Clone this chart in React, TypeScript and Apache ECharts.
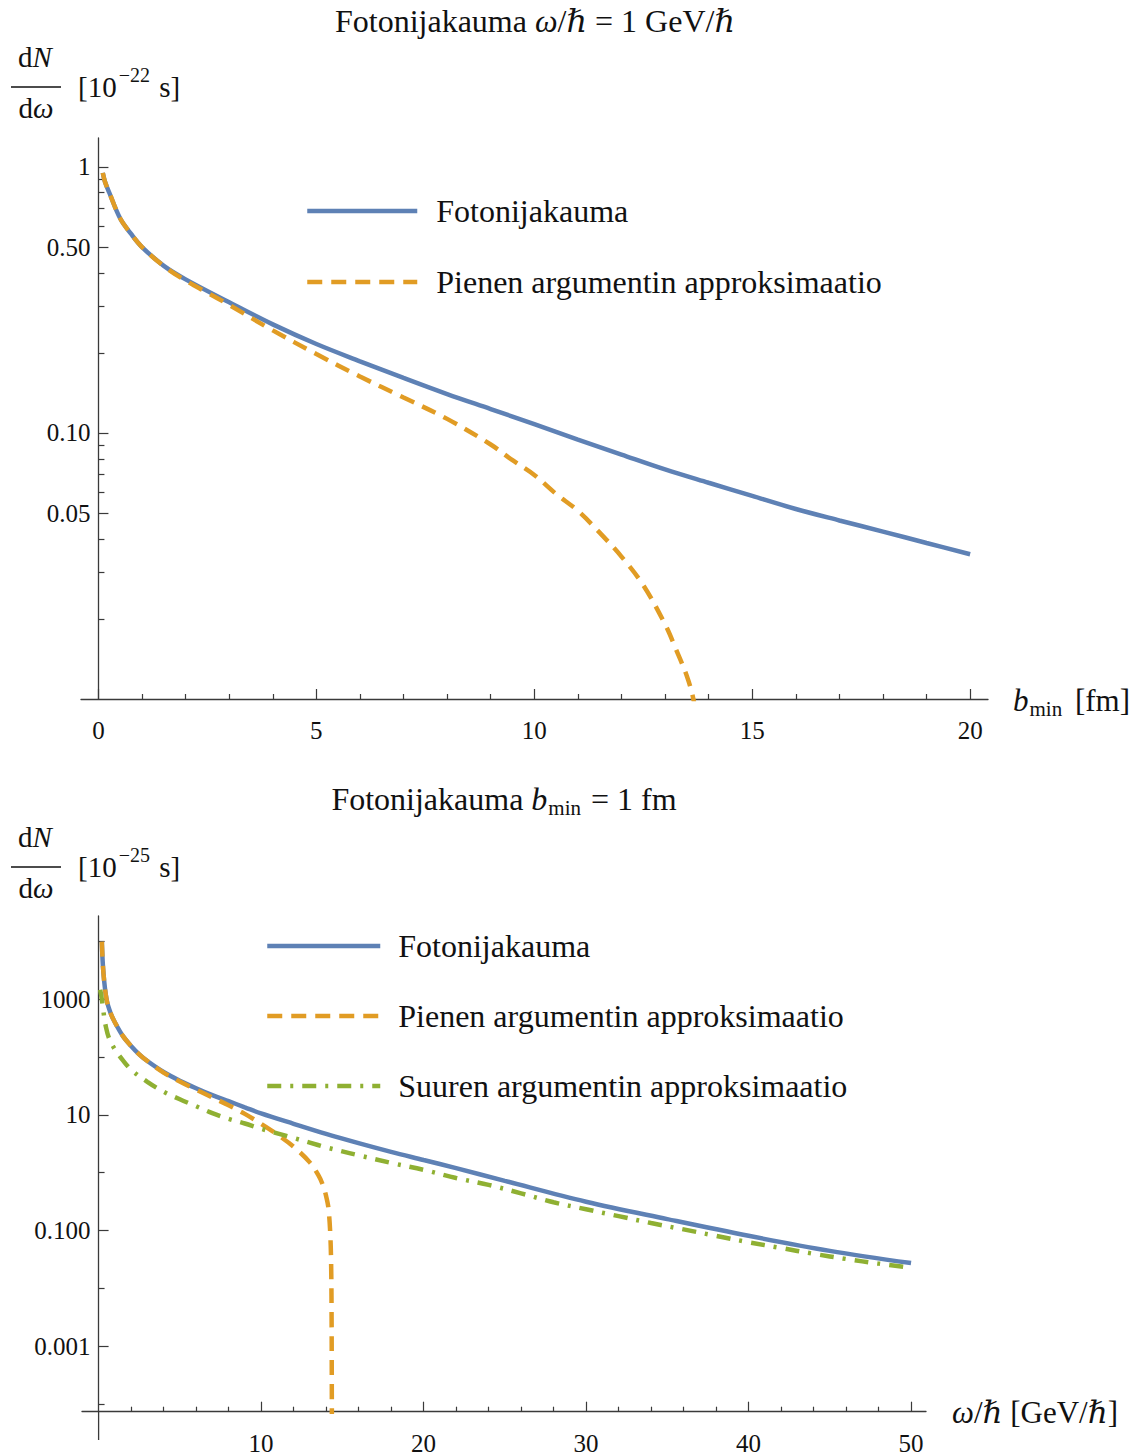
import React, { useEffect, useRef } from 'react';
import * as echarts from 'echarts';

// ---------- data ----------
const NAME_EXACT = 'Fotonijakauma';
const NAME_SMALL = 'Pienen argumentin approksimaatio';
const NAME_LARGE = 'Suuren argumentin approksimaatio';

// top chart: dN/dω [1e-22 s] vs b_min [fm]
const TOP_X = [0.1, 0.15, 0.25, 0.5, 0.75, 1, 1.5, 2, 3, 4, 5, 6, 7, 8, 9, 10, 11, 12, 13, 14, 15, 16, 17, 18, 19, 20];
const TOP_EXACT = [0.95, 0.88, 0.80, 0.64, 0.56, 0.50, 0.425, 0.378, 0.31, 0.256, 0.216, 0.186, 0.161, 0.140, 0.123, 0.108, 0.0945, 0.083, 0.073, 0.065, 0.058, 0.0518, 0.0469, 0.0426, 0.0386, 0.035];
const TOP_SMALL_X = [0.1, 0.15, 0.25, 0.5, 0.75, 1, 1.5, 2, 2.5, 3, 4, 5, 6, 7, 8, 9, 9.5, 10, 10.5, 11, 11.5, 12, 12.5, 13, 13.25, 13.5, 13.65, 13.75];
const TOP_SMALL = [0.95, 0.88, 0.80, 0.64, 0.56, 0.50, 0.424, 0.374, 0.337, 0.303, 0.243, 0.198, 0.163, 0.136, 0.113, 0.0905, 0.079, 0.0695, 0.059, 0.051, 0.0422, 0.0343, 0.0268, 0.0191, 0.0154, 0.0122, 0.0100, 0.0078];

// bottom chart: dN/dω [1e-25 s] vs ω/ħ [GeV/ħ]
const BOT_X = [0.2, 0.3, 0.5, 0.75, 1, 1.5, 2, 2.5, 3, 4, 5, 6, 7, 8, 9, 10, 12, 14, 16, 18, 20, 22, 25, 30, 35, 40, 45, 50];
const BOT_EXACT = [9800, 2800, 955, 562, 398, 229, 155, 111, 85, 55, 38.9, 28.8, 21.9, 17.2, 13.5, 10.6, 7.0, 4.68, 3.24, 2.29, 1.66, 1.20, 0.724, 0.316, 0.158, 0.0813, 0.0447, 0.0275];
const BOT_SMALL_X = [0.2, 0.3, 0.5, 0.75, 1, 1.5, 2, 2.5, 3, 4, 5, 6, 7, 8, 9, 10, 11, 12, 13, 13.5, 13.8, 14.0, 14.15, 14.27, 14.32, 14.34, 14.35, 14.36];
const BOT_SMALL = [9800, 2800, 955, 562, 398, 229, 155, 111, 85, 53.7, 37.6, 27.2, 20.0, 14.6, 10.4, 7.0, 4.57, 2.82, 1.51, 0.933, 0.617, 0.398, 0.240, 0.0741, 0.0178, 0.00316, 0.000398, 0.0000316];
const BOT_LARGE_X = [0.1, 0.2, 0.3, 0.45, 0.65, 1, 1.5, 2, 3, 4, 5, 6, 7, 8, 9, 10, 11, 12, 13, 14, 15, 16, 18, 20, 22, 24, 26, 28, 30, 32, 34, 36, 38, 40, 42, 44, 46, 48, 50];
const BOT_LARGE = [1450, 1000, 603, 331, 209, 135, 87.1, 60.3, 37.2, 25.1, 18.6, 14.1, 10.7, 8.51, 7.08, 5.75, 4.79, 3.98, 3.31, 2.75, 2.34, 2.0, 1.48, 1.12, 0.813, 0.617, 0.44, 0.309, 0.234, 0.178, 0.135, 0.105, 0.0813, 0.0631, 0.0501, 0.0398, 0.0324, 0.0269, 0.0229];

// ticks
const TOP_X_TICKS = [0, 5, 10, 15, 20];
const TOP_X_MINOR = [1, 2, 3, 4, 6, 7, 8, 9, 11, 12, 13, 14, 16, 17, 18, 19];
const TOP_Y_TICKS = [1, 0.5, 0.1, 0.05];
const TOP_Y_LABELS = ['1', '0.50', '0.10', '0.05'];
const TOP_Y_MINOR = [0.9, 0.8, 0.7, 0.6, 0.4, 0.3, 0.2, 0.09, 0.08, 0.07, 0.06, 0.04, 0.03, 0.02];
const BOT_X_TICKS = [10, 20, 30, 40, 50];
const BOT_X_MINOR = [2, 4, 6, 8, 12, 14, 16, 18, 22, 24, 26, 28, 32, 34, 36, 38, 42, 44, 46, 48];
const BOT_Y_TICKS = [1000, 10, 0.1, 0.001];
const BOT_Y_LABELS = ['1000', '10', '0.100', '0.001'];
const BOT_Y_MINOR = [10000, 100, 1, 0.01, 0.0001];

// ---------- styling ----------
const SERIF = '"Liberation Serif", "DejaVu Serif", serif';
const INK = '#111111';
const AXIS = '#3a3a3a';
const BLUE = '#5E81B5';
const ORANGE = '#E19C24';
const GREEN = '#8FB032';

type Seg = { t: string; fs: number; it?: boolean; dy?: number; gap?: number };

function flowText(ctx: CanvasRenderingContext2D, segs: Seg[], x0: number, baseline: number, anchor: 'left' | 'center') {
  const widths = segs.map((s) => {
    ctx.font = `${s.it ? 'italic ' : ''}${s.fs}px ${SERIF}`;
    return ctx.measureText(s.t).width;
  });
  const total = widths.reduce((a, w, i) => a + w + (segs[i].gap || 0), 0);
  let x = anchor === 'center' ? x0 - total / 2 : x0;
  const els: any[] = [];
  segs.forEach((s, i) => {
    x += s.gap || 0;
    els.push({
      type: 'text',
      x,
      y: baseline + (s.dy || 0) - 0.3375 * s.fs,
      silent: true,
      style: {
        text: s.t,
        fontSize: s.fs,
        fontFamily: SERIF,
        fontStyle: s.it ? 'italic' : 'normal',
        fill: INK,
        align: 'left',
        verticalAlign: 'middle',
      },
    });
    x += widths[i];
  });
  return els;
}

const log = (v: number) => Math.log10(v);

function xAxisMajor(grid: number, min: number, max: number, ticks: number[]) {
  return {
    type: 'value', gridIndex: grid, min, max, position: 'bottom',
    axisLine: { show: true, onZero: false, lineStyle: { color: AXIS, width: 1.3 } },
    axisTick: { show: true, inside: true, length: 10, customValues: ticks, lineStyle: { color: AXIS, width: 1.2 } },
    axisLabel: { show: true, customValues: ticks, margin: 19, color: INK, fontFamily: SERIF, fontSize: 25 },
    splitLine: { show: false },
  };
}
function xAxisMinor(grid: number, min: number, max: number, ticks: number[]) {
  return {
    type: 'value', gridIndex: grid, min, max, position: 'bottom',
    axisLine: { show: false, onZero: false },
    axisTick: { show: true, inside: true, length: 5, customValues: ticks, lineStyle: { color: AXIS, width: 1.2 } },
    axisLabel: { show: false },
    splitLine: { show: false },
  };
}
// labels of an onZero axis stay at the grid edge, so the margin is set relative to it
function yAxisMajor(grid: number, min: number, max: number, ticks: number[], labels: string[], xIdx: number, margin: number) {
  const vals = ticks.map(log);
  return {
    type: 'value', gridIndex: grid, min, max, position: 'left',
    axisLine: { show: true, onZero: true, onZeroAxisIndex: xIdx, lineStyle: { color: AXIS, width: 1.3 } },
    axisTick: { show: true, inside: true, length: 10, customValues: vals, lineStyle: { color: AXIS, width: 1.2 } },
    axisLabel: {
      show: true, customValues: vals, margin, color: INK, fontFamily: SERIF, fontSize: 25,
      padding: [4, 0, 0, 0],
      formatter: (v: number) => {
        const i = vals.findIndex((q) => Math.abs(q - v) < 1e-6);
        return i >= 0 ? labels[i] : '';
      },
    },
    splitLine: { show: false },
  };
}
function yAxisMinor(grid: number, min: number, max: number, ticks: number[], xIdx: number) {
  return {
    type: 'value', gridIndex: grid, min, max, position: 'left',
    axisLine: { show: false, onZero: true, onZeroAxisIndex: xIdx },
    axisTick: { show: true, inside: true, length: 6, customValues: ticks.map(log), lineStyle: { color: AXIS, width: 1.2 } },
    axisLabel: { show: false },
    splitLine: { show: false },
  };
}
function lineSeries(name: string, xs: number[], ys: number[], xi: number, yi: number, color: string, type: any, width: number) {
  return {
    type: 'line', name, xAxisIndex: xi, yAxisIndex: yi,
    data: xs.map((x, i) => [x, log(ys[i])]),
    showSymbol: false, symbol: 'none', smooth: 0.35,
    lineStyle: { color, width, type }, itemStyle: { color },
    emphasis: { disabled: true }, silent: true, clip: true,
  };
}

export default function App() {
  const ref = useRef<HTMLDivElement>(null);
  useEffect(() => {
    document.body.style.margin = '0';
    if (!ref.current) return;
    const chart = echarts.init(ref.current, undefined, { renderer: 'svg', width: 1148, height: 1456 });
    const ctx = document.createElement('canvas').getContext('2d') as CanvasRenderingContext2D;

    const DASH = [15, 9];
    const DASHDOT = [14, 9, 3, 9];

    const graphics: any[] = [
      // top title
      ...flowText(ctx, [
        { t: 'Fotonijakauma ', fs: 32 }, { t: 'ω', fs: 32, it: true }, { t: '/', fs: 32 }, { t: 'ℏ', fs: 32, it: true },
        { t: ' = 1 GeV/', fs: 32 }, { t: 'ℏ', fs: 32, it: true },
      ], 535, 31.5, 'center'),
      // top y title
      ...flowText(ctx, [{ t: 'd', fs: 29 }, { t: 'N', fs: 29, it: true }], 35, 67, 'center'),
      { type: 'line', silent: true, shape: { x1: 11, y1: 87, x2: 61, y2: 87 }, style: { stroke: INK, lineWidth: 1.4 } },
      ...flowText(ctx, [{ t: 'd', fs: 29 }, { t: 'ω', fs: 29, it: true }], 36, 118, 'center'),
      ...flowText(ctx, [{ t: '[10', fs: 29 }, { t: '−22', fs: 20, dy: -15, gap: 2 }, { t: ' s]', fs: 29, gap: 2 }], 78, 97, 'left'),
      // top x name
      ...flowText(ctx, [{ t: 'b', fs: 31, it: true }, { t: 'min', fs: 21, dy: 5.5, gap: 1 }, { t: ' [fm]', fs: 31, gap: 5 }], 1013, 711, 'left'),

      // bottom title
      ...flowText(ctx, [
        { t: 'Fotonijakauma ', fs: 32 }, { t: 'b', fs: 32, it: true }, { t: 'min', fs: 21, dy: 5.5, gap: 1 }, { t: ' = 1 fm', fs: 32, gap: 2 },
      ], 504, 810, 'center'),
      // bottom y title
      ...flowText(ctx, [{ t: 'd', fs: 29 }, { t: 'N', fs: 29, it: true }], 35, 847, 'center'),
      { type: 'line', silent: true, shape: { x1: 11, y1: 867, x2: 61, y2: 867 }, style: { stroke: INK, lineWidth: 1.4 } },
      ...flowText(ctx, [{ t: 'd', fs: 29 }, { t: 'ω', fs: 29, it: true }], 36, 898, 'center'),
      ...flowText(ctx, [{ t: '[10', fs: 29 }, { t: '−25', fs: 20, dy: -15, gap: 2 }, { t: ' s]', fs: 29, gap: 2 }], 78, 877, 'left'),
      // bottom x name
      ...flowText(ctx, [
        { t: 'ω', fs: 31, it: true }, { t: '/', fs: 31 }, { t: 'ℏ', fs: 31, it: true }, { t: ' [GeV/', fs: 31 }, { t: 'ℏ', fs: 31, it: true }, { t: ']', fs: 31 },
      ], 952, 1423, 'left'),
      // bottom y-axis continues a little below the x axis
      { type: 'line', silent: true, shape: { x1: 98.6, y1: 1411.7, x2: 98.6, y2: 1440 }, style: { stroke: AXIS, lineWidth: 1.3 } },
    ];

    const topYMin = log(0.01), topYMax = log(1.285);
    const botYMin = log(7.45e-5), botYMax = log(27200);

    const legendText = { fontFamily: SERIF, fontSize: 32, color: INK, lineHeight: 36 };
    const legendCommon = {
      orient: 'vertical', padding: 0, itemHeight: 36, selectedMode: false,
      itemStyle: { opacity: 0, borderWidth: 0 },
      lineStyle: { width: 4.5 },
    };

    chart.setOption({
      animation: false,
      backgroundColor: '#ffffff',
      grid: [
        { left: 81, top: 138, width: 907, height: 561, containLabel: false },
        { left: 82, top: 916, width: 844, height: 495.7, containLabel: false },
      ],
      xAxis: [
        xAxisMajor(0, -0.4, 20.41, TOP_X_TICKS),
        xAxisMinor(0, -0.4, 20.41, TOP_X_MINOR),
        xAxisMajor(1, -1.02, 50.92, BOT_X_TICKS),
        xAxisMinor(1, -1.02, 50.92, BOT_X_MINOR),
      ],
      yAxis: [
        yAxisMajor(0, topYMin, topYMax, TOP_Y_TICKS, TOP_Y_LABELS, 0, -9.5),
        yAxisMinor(0, topYMin, topYMax, TOP_Y_MINOR, 0),
        yAxisMajor(1, botYMin, botYMax, BOT_Y_TICKS, BOT_Y_LABELS, 2, -8.5),
        yAxisMinor(1, botYMin, botYMax, BOT_Y_MINOR, 2),
      ],
      legend: [
        {
          ...legendCommon,
          data: [NAME_EXACT, NAME_SMALL], left: 305, top: 193,
          itemWidth: 110, itemGap: 35,
          textStyle: { ...legendText, padding: [0, 0, 0, 14] },
        },
        {
          ...legendCommon,
          data: [NAME_EXACT, NAME_SMALL, NAME_LARGE], left: 265, top: 928,
          itemWidth: 113, itemGap: 34,
          textStyle: { ...legendText, padding: [0, 0, 0, 13] },
        },
      ],
      series: [
        lineSeries(NAME_EXACT, TOP_X, TOP_EXACT, 0, 0, BLUE, 'solid', 4.5),
        lineSeries(NAME_SMALL, TOP_SMALL_X, TOP_SMALL, 0, 0, ORANGE, DASH, 4.5),
        lineSeries(NAME_EXACT, BOT_X, BOT_EXACT, 2, 2, BLUE, 'solid', 4.5),
        lineSeries(NAME_SMALL, BOT_SMALL_X, BOT_SMALL, 2, 2, ORANGE, DASH, 4.5),
        lineSeries(NAME_LARGE, BOT_LARGE_X, BOT_LARGE, 2, 2, GREEN, DASHDOT, 4.5),
      ],
      graphic: graphics,
    });
    return () => chart.dispose();
  }, []);
  return <div ref={ref} style={{ position: 'absolute', left: 0, top: 0, width: 1148, height: 1456, background: '#fff' }} />;
}
